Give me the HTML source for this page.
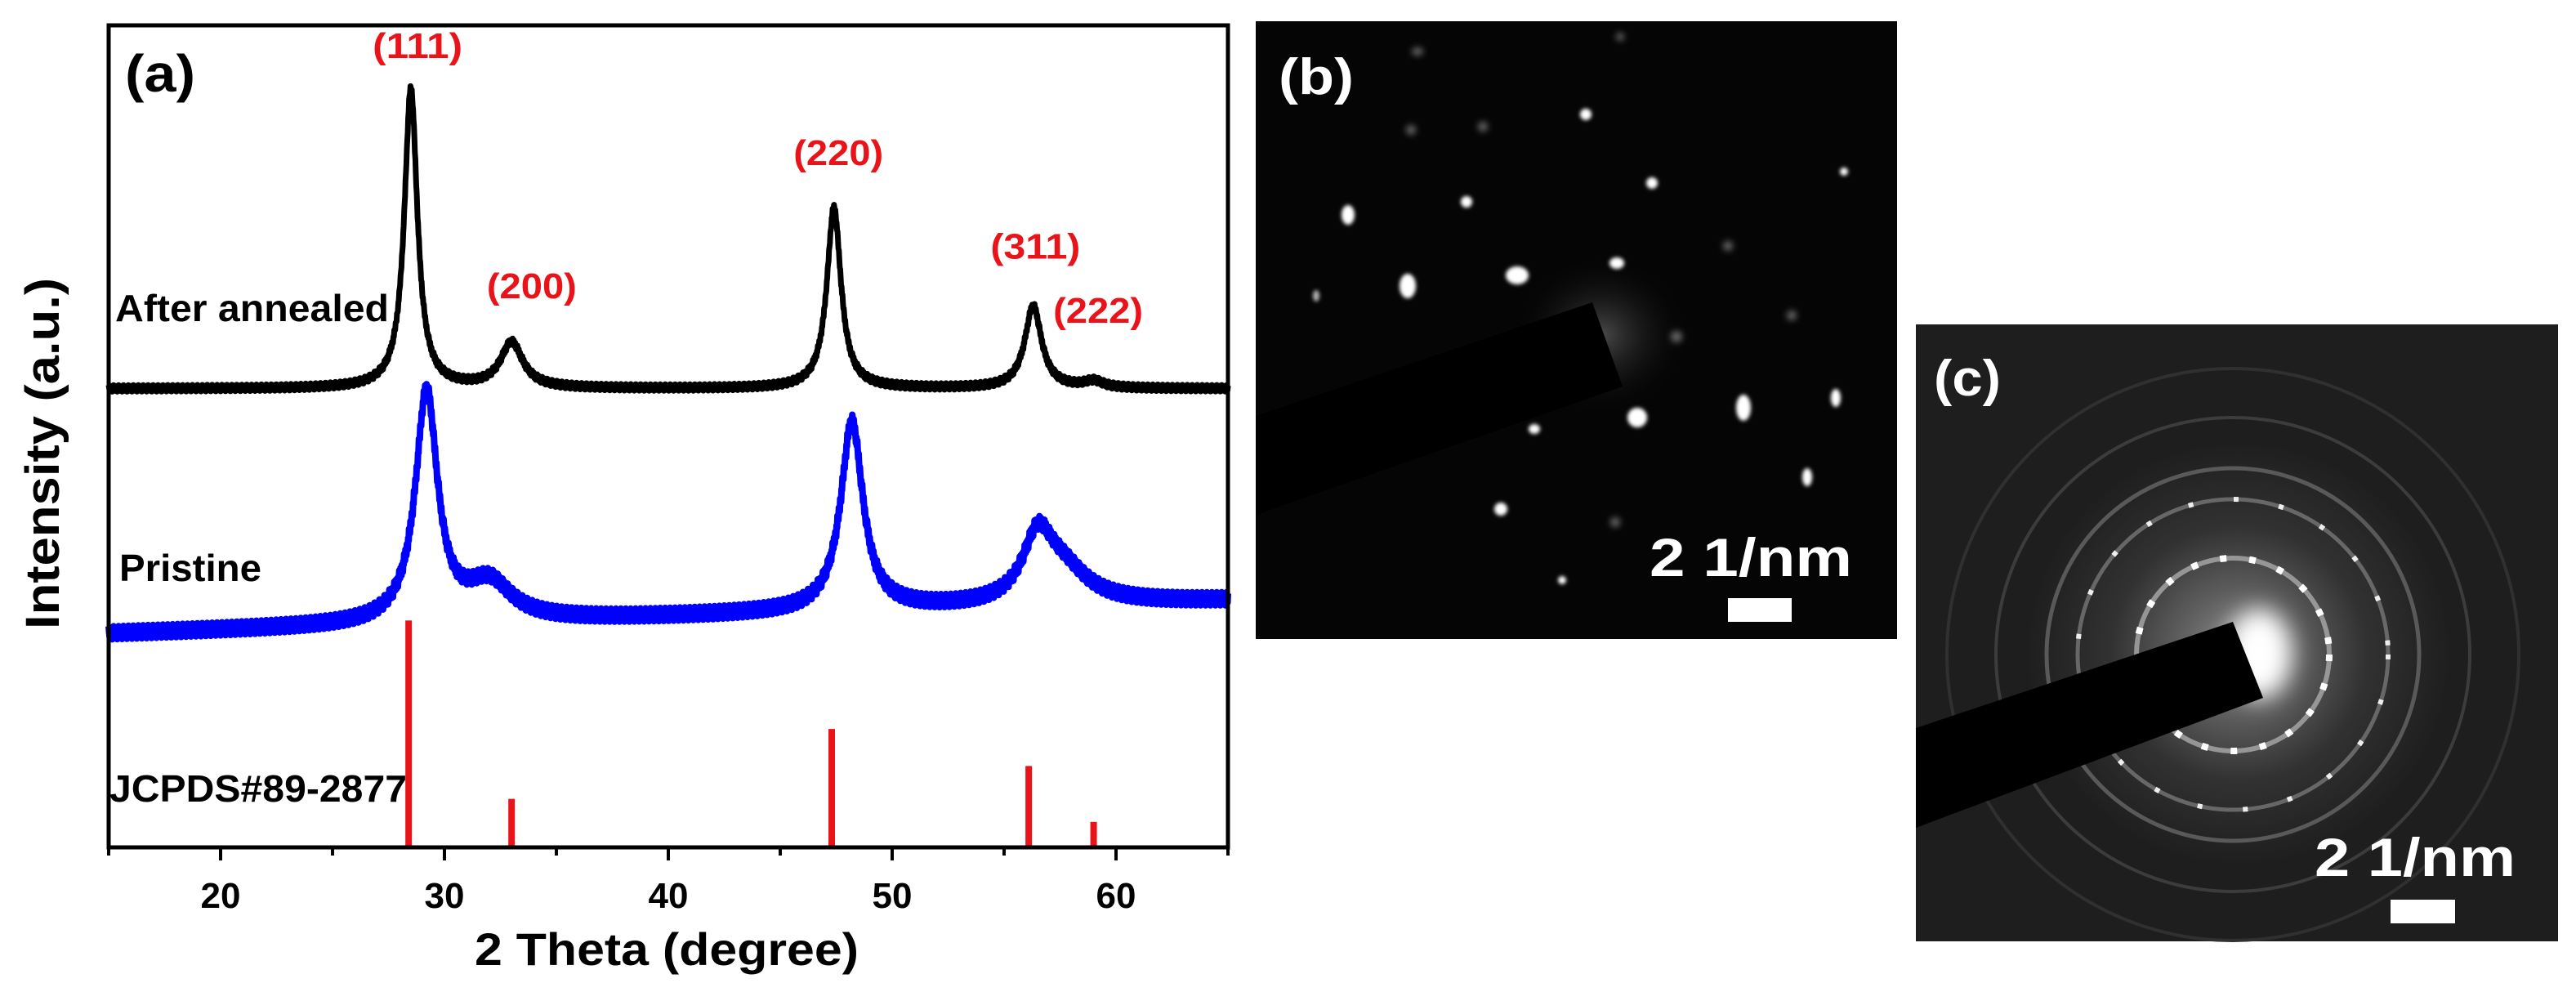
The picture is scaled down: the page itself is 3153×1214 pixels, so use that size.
<!DOCTYPE html>
<html><head><meta charset="utf-8">
<style>
html,body{margin:0;padding:0;background:#fff;}
svg{display:block;}
text{font-family:"Liberation Sans",sans-serif;font-weight:bold;}
</style></head>
<body>
<svg id="fig" width="3153" height="1214" viewBox="0 0 3153 1214" xmlns="http://www.w3.org/2000/svg">
<defs>
<filter id="blur2" x="-50%" y="-50%" width="200%" height="200%"><feGaussianBlur stdDeviation="2.5"/></filter>
<filter id="blur4" x="-50%" y="-50%" width="200%" height="200%"><feGaussianBlur stdDeviation="4"/></filter>
<filter id="blur8" x="-50%" y="-50%" width="200%" height="200%"><feGaussianBlur stdDeviation="14"/></filter>
<radialGradient id="glowB" cx="0.5" cy="0.5" r="0.5"><stop offset="0" stop-color="#777" stop-opacity="0.6"/><stop offset="1" stop-color="#000" stop-opacity="0"/></radialGradient>
<radialGradient id="glowC" cx="0.5" cy="0.5" r="0.5"><stop offset="0" stop-color="#bbb"/><stop offset="0.3" stop-color="#777"/><stop offset="0.6" stop-color="#3a3a3a"/><stop offset="1" stop-color="#1e1e1e"/></radialGradient>
</defs>
<g id="panelA"></g>
<g id="panelB"></g>
<g id="panelC"></g>
</svg>
<script>
// ---- XRD chart data ----
const xTicks = [20, 30, 40, 50, 60];
const annealedPeakPos = [28.5, 33.0, 47.4, 56.3, 59.0];
const annealedPeakHeight = [36.5, 5.5, 22.0, 10.0, 0.8];
const annealedPeakWidth = [0.35, 0.6, 0.38, 0.45, 0.5];
const annealedBaseline = [55.8, 55.8];
const pristinePeakPos = [29.2, 32.0, 48.2, 56.5, 57.6];
const pristinePeakHeight = [28.0, 4.5, 23.0, 7.5, 4.0];
const pristinePeakWidth = [0.6, 1.2, 0.6, 0.8, 1.4];
const pristineBaseline = [26.0, 30.0];
const refPos = [28.4, 33.0, 47.3, 56.1, 59.0];
const refHeight = [27.6, 5.9, 14.4, 9.9, 3.1];
const peakLabels = ["(111)", "(200)", "(220)", "(311)", "(222)"];
const peakLabelX = [28.8, 33.9, 47.6, 56.4, 59.2];
const peakLabelY = [96.0, 66.8, 83.0, 71.6, 63.8];

const NS = "http://www.w3.org/2000/svg";
const X0 = 133, X1 = 1503, Y0 = 31, Y1 = 1037;
const xMin = 15, xMax = 65, yMin = 0, yMax = 100;
function xs(v){ return X0 + (v - xMin) / (xMax - xMin) * (X1 - X0); }
function ys(v){ return Y1 - (v - yMin) / (yMax - yMin) * (Y1 - Y0); }
function mk(tag, attrs, parent){ const e = document.createElementNS(NS, tag); for (const k in attrs) e.setAttribute(k, attrs[k]); parent.appendChild(e); return e; }

const A = document.getElementById('panelA');
function profile(pos, h, w, base, x){
  let y = base[0] + (base[1] - base[0]) * (x - xMin) / (xMax - xMin);
  for (let i = 0; i < pos.length; i++){ const d = (x - pos[i]) / w[i]; y += h[i] / (1 + d * d); }
  return y;
}
function seriesPath(pos, h, w, base, jitter){
  let d = "";
  let k = 0;
  for (let x = xMin; x <= xMax + 1e-9; x += 0.02){
    const j = jitter * (((k * 37) % 11) / 10 - 0.5);
    k++;
    d += (d ? "L" : "M") + xs(x).toFixed(1) + "," + (ys(profile(pos, h, w, base, x)) + j).toFixed(1);
  }
  return d;
}
const pA = mk('path', {d: seriesPath(annealedPeakPos, annealedPeakHeight, annealedPeakWidth, annealedBaseline, 8), fill:'none', stroke:'#000', 'stroke-width':7, 'stroke-linejoin':'round'}, A);


const pP = mk('path', {d: seriesPath(pristinePeakPos, pristinePeakHeight, pristinePeakWidth, pristineBaseline, 16), fill:'none', stroke:'#0000ff', 'stroke-width':8, 'stroke-linejoin':'round'}, A);


for (let i = 0; i < refPos.length; i++){
  const r = mk('rect', {x: xs(refPos[i]) - 4, y: ys(refHeight[i]), width: 8, height: ys(0) - ys(refHeight[i]), fill:'#e8141a'}, A);
  
  
}
for (let i = 0; i < peakLabels.length; i++){
  const t = mk('text', {x: xs(peakLabelX[i]), y: ys(peakLabelY[i]), 'text-anchor':'middle', 'font-size':44, fill:'#e8141a', textLength:110, lengthAdjust:'spacingAndGlyphs'}, A);
  t.textContent = peakLabels[i];
  
  
}
// frame
const fr = mk('rect', {x:X0, y:Y0, width:X1-X0, height:Y1-Y0, fill:'none', stroke:'#000', 'stroke-width':5}, A);


for (let v = 15; v <= 65; v += 5){
  const major = v % 10 === 0;
  const tk = mk('line', {x1: xs(v), x2: xs(v), y1: Y1, y2: Y1 + (major ? 16 : 10), stroke:'#000', 'stroke-width':4}, A);
  
  
}
for (const v of xTicks){
  const t = mk('text', {x: xs(v), y: 1111, 'text-anchor':'middle', 'font-size':44, fill:'#000'}, A);
  t.textContent = v;
  
  
}
</script>
<svg style="position:absolute;left:0;top:0" width="3153" height="1214" viewBox="0 0 3153 1214" xmlns="http://www.w3.org/2000/svg">
<text x="153" y="112" font-size="64" textLength="86" lengthAdjust="spacingAndGlyphs" style="font-weight:bold;font-family:'Liberation Sans',sans-serif">(a)</text>
<text x="141" y="393" font-size="46" textLength="335" lengthAdjust="spacingAndGlyphs" style="font-weight:bold;font-family:'Liberation Sans',sans-serif">After annealed</text>
<text x="146" y="711" font-size="46" textLength="174" lengthAdjust="spacingAndGlyphs" style="font-weight:bold;font-family:'Liberation Sans',sans-serif">Pristine</text>
<text x="134" y="981" font-size="46" textLength="364" lengthAdjust="spacingAndGlyphs" style="font-weight:bold;font-family:'Liberation Sans',sans-serif">JCPDS#89-2877</text>
<text x="816" y="1181" font-size="56" text-anchor="middle" textLength="470" lengthAdjust="spacingAndGlyphs" style="font-weight:bold;font-family:'Liberation Sans',sans-serif">2 Theta (degree)</text>
<text transform="translate(72,555) rotate(-90)" font-size="58" text-anchor="middle" textLength="430" lengthAdjust="spacingAndGlyphs" style="font-weight:bold;font-family:'Liberation Sans',sans-serif">Intensity (a.u.)</text>

<g>
<rect x="1537" y="26" width="785" height="756" fill="#050505"/>
<ellipse cx="1960" cy="410" rx="110" ry="100" fill="url(#glowB)"/>
<g fill="#fff" filter="url(#blur2)">
<ellipse cx="1941" cy="140" rx="7" ry="7"/><ellipse cx="2022" cy="224" rx="7" ry="7"/>
<ellipse cx="1795" cy="247" rx="7" ry="7"/><ellipse cx="1650" cy="263" rx="8" ry="12"/>
<ellipse cx="1723" cy="350" rx="10" ry="15"/><ellipse cx="1857" cy="337" rx="14" ry="11"/>
<ellipse cx="1979" cy="322" rx="9" ry="7"/><ellipse cx="2257" cy="210" rx="5" ry="5"/>
<ellipse cx="2134" cy="499" rx="9" ry="16"/><ellipse cx="2247" cy="487" rx="6" ry="11"/>
<ellipse cx="2004" cy="511" rx="12" ry="12"/><ellipse cx="1878" cy="525" rx="7" ry="6"/>
<ellipse cx="2212" cy="584" rx="6" ry="11"/><ellipse cx="1837" cy="623" rx="8" ry="8"/>
<ellipse cx="1912" cy="710" rx="5" ry="5"/><ellipse cx="1611" cy="362" rx="4" ry="7" opacity="0.7"/>
</g>
<g fill="#666" filter="url(#blur4)">
<ellipse cx="1727" cy="159" rx="6" ry="6"/><ellipse cx="1815" cy="155" rx="6" ry="6"/>
<ellipse cx="2115" cy="301" rx="6" ry="6"/><ellipse cx="2193" cy="386" rx="6" ry="6"/>
<ellipse cx="2052" cy="412" rx="7" ry="7"/><ellipse cx="1977" cy="639" rx="6" ry="6"/>
<ellipse cx="1735" cy="63" rx="7" ry="5"/><ellipse cx="1983" cy="45" rx="5" ry="5"/>
</g>
<polygon points="1537,509 1949,370 1986,473 1537,630" fill="#000"/>
<text x="1565" y="115" font-size="62" fill="#fff" textLength="92" lengthAdjust="spacingAndGlyphs" style="font-weight:bold;font-family:'Liberation Sans',sans-serif">(b)</text>
<text x="2143" y="705" font-size="66" fill="#fff" text-anchor="middle" textLength="248" lengthAdjust="spacingAndGlyphs" style="font-weight:bold;font-family:'Liberation Sans',sans-serif">2 1/nm</text>
<rect x="2115" y="732" width="78" height="29" fill="#fff"/>
</g>

<g>
<rect x="2345" y="397" width="786" height="755" fill="#1e1e1e"/>
<circle cx="2740" cy="800" r="260" fill="url(#glowC)" opacity="0.7"/>
<g fill="none">
<circle cx="2733" cy="801" r="118" stroke="#aaa" stroke-width="6" opacity="0.8"/>
<circle cx="2733" cy="801" r="118" stroke="#fff" stroke-width="8" stroke-dasharray="8 28"/>
<circle cx="2733" cy="801" r="190" stroke="#777" stroke-width="5" opacity="0.8"/>
<circle cx="2733" cy="801" r="190" stroke="#eee" stroke-width="6" stroke-dasharray="6 50"/>
<circle cx="2733" cy="801" r="228" stroke="#666" stroke-width="5" opacity="0.8"/>
<circle cx="2733" cy="801" r="290" stroke="#3c3c3c" stroke-width="4"/>
<circle cx="2733" cy="801" r="350" stroke="#303030" stroke-width="4"/>
</g>
<ellipse cx="2765" cy="800" rx="40" ry="55" fill="#fff" filter="url(#blur8)"/>
<polygon points="2345,891 2733,761 2770,854 2345,1013" fill="#000"/>
<text x="2367" y="484" font-size="62" fill="#fff" textLength="82" lengthAdjust="spacingAndGlyphs" style="font-weight:bold;font-family:'Liberation Sans',sans-serif">(c)</text>
<text x="2956" y="1072" font-size="66" fill="#fff" text-anchor="middle" textLength="246" lengthAdjust="spacingAndGlyphs" style="font-weight:bold;font-family:'Liberation Sans',sans-serif">2 1/nm</text>
<rect x="2926" y="1101" width="79" height="29" fill="#fff"/>
</g>
</svg>
</body></html>
